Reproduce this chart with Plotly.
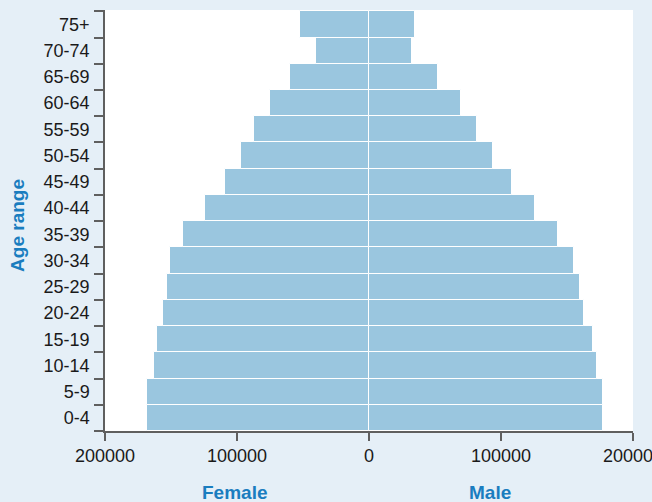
import plotly.graph_objects as go

ages = ["0-4", "5-9", "10-14", "15-19", "20-24", "25-29", "30-34", "35-39",
        "40-44", "45-49", "50-54", "55-59", "60-64", "65-69", "70-74", "75+"]
female = [168000, 168000, 163000, 160500, 156000, 153000, 151000, 141000,
          124000, 109000, 97000, 87000, 75000, 60000, 40000, 52500]
male = [177500, 177500, 172500, 170000, 163000, 160000, 155000, 143000,
        126000, 108700, 94000, 81500, 69500, 52000, 32500, 35000]
xtick_vals = [-200000, -100000, 0, 100000, 200000]
xtick_text = ["200000", "100000", "0", "100000", "200000"]

bar_color = "#9ac6df"
bg_color = "#e5eff7"
title_color = "#1a7dbf"
axis_color = "#5f5f5f"

fig = go.Figure()
fig.add_trace(go.Bar(y=ages, x=[-v for v in female], orientation="h", name="Female",
                     hoverinfo="skip",
                     marker=dict(color=bar_color, line=dict(color="white", width=1))))
fig.add_trace(go.Bar(y=ages, x=male, orientation="h", name="Male",
                     hoverinfo="skip",
                     marker=dict(color=bar_color, line=dict(color="white", width=1))))

fig.update_layout(
    width=652, height=502, autosize=False,
    margin=dict(l=105, r=19, t=10, b=71, autoexpand=False),
    paper_bgcolor=bg_color, plot_bgcolor="white",
    barmode="overlay", bargap=0, showlegend=False,
    font=dict(family="Liberation Sans, Arial, sans-serif", size=18, color="#1a1a1a"),
    xaxis=dict(range=[-200000, 200000], tickvals=xtick_vals, ticktext=xtick_text,
               showgrid=False, zeroline=False, showline=True, linecolor=axis_color,
               linewidth=1.5, ticks="outside", ticklen=8, tickwidth=1.5,
               tickcolor=axis_color, ticklabeloverflow="allow", automargin=False,
               fixedrange=True),
    yaxis=dict(type="category", categoryorder="array", categoryarray=ages,
               range=[-0.5, 15.55], showgrid=False, zeroline=False, showline=True,
               linecolor=axis_color, linewidth=1.5, ticks="outside", ticklen=9,
               tickwidth=1.5, tickcolor=axis_color, tickson="boundaries",
               ticklabelstandoff=10, automargin=False, fixedrange=True),
    annotations=[
        dict(text="<b>Female</b>", x=0.246, y=-0.145, xref="paper", yref="paper",
             showarrow=False, xanchor="center", yanchor="middle",
             font=dict(size=19, color=title_color)),
        dict(text="<b>Male</b>", x=0.729, y=-0.145, xref="paper", yref="paper",
             showarrow=False, xanchor="center", yanchor="middle",
             font=dict(size=19, color=title_color)),
        dict(text="<b>Age range</b>", x=-0.166, y=0.488, xref="paper", yref="paper",
             showarrow=False, xanchor="center", yanchor="middle", textangle=-90,
             font=dict(size=19, color=title_color)),
    ],
)

fig.write_html("out.html", config={"displayModeBar": False},
               post_script="document.body.style.margin='0';document.body.style.overflow='hidden';")
